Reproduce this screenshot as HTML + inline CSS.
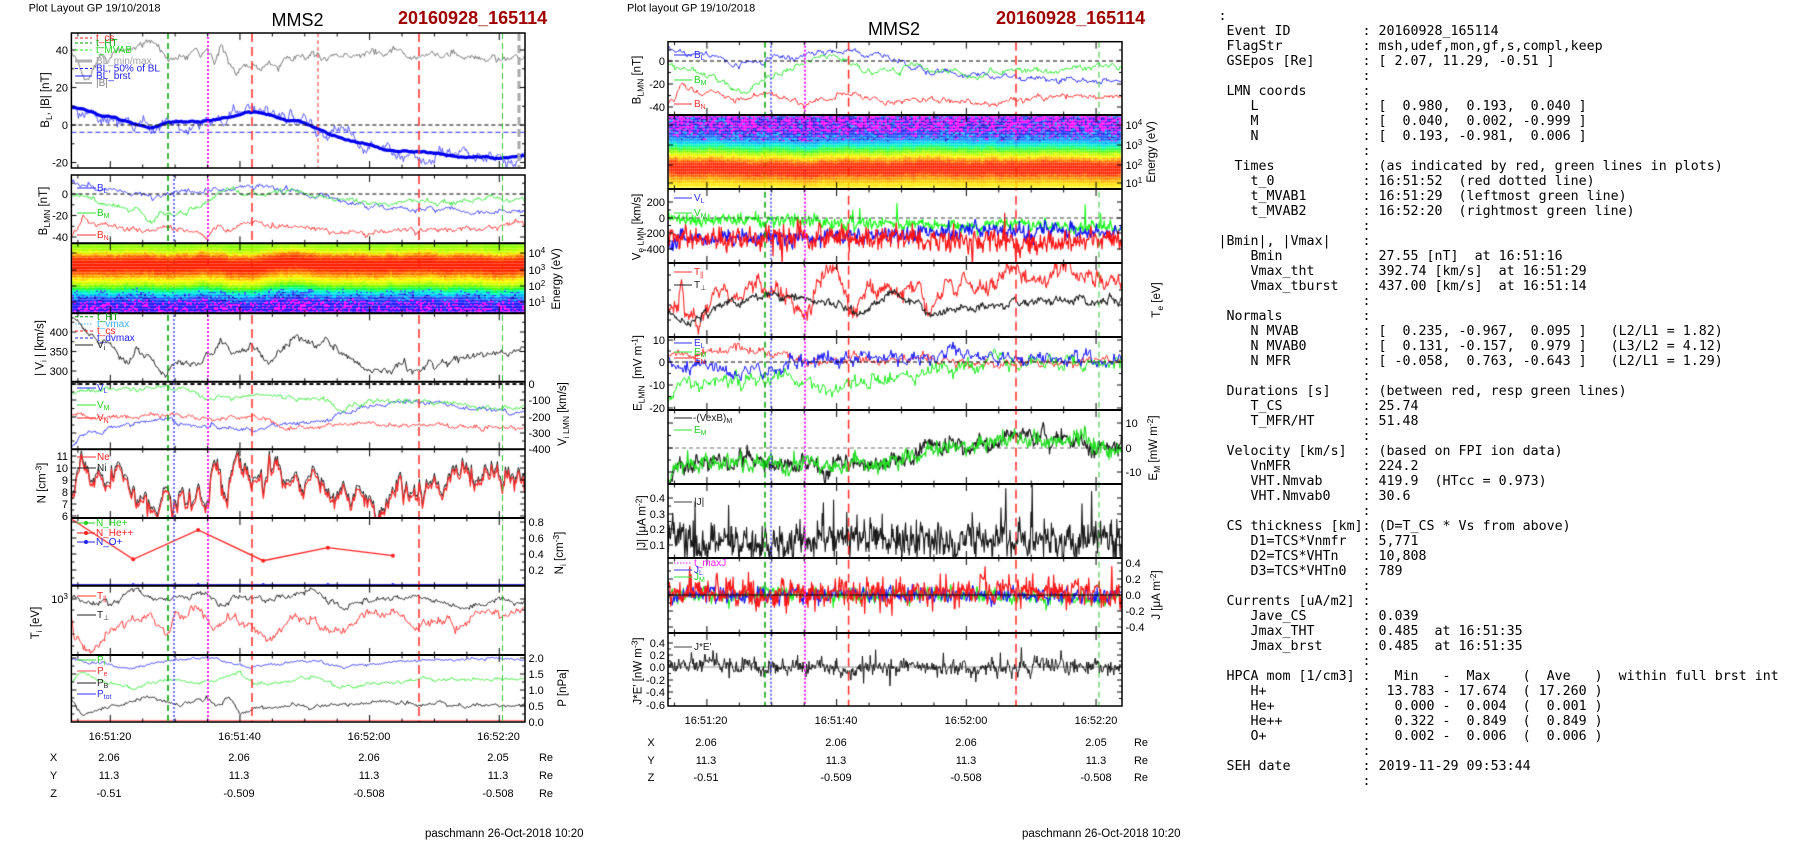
<!DOCTYPE html>
<html><head><meta charset="utf-8"><title>MMS2 20160928_165114</title>
<style>
html,body{margin:0;padding:0;background:#fff;}
body{width:1804px;height:841px;overflow:hidden;position:relative;}
#c,#s{position:absolute;left:0;top:0;}
text{white-space:pre;}
</style></head><body>
<canvas id="c" width="1804" height="841"></canvas>
<svg id="s" xmlns="http://www.w3.org/2000/svg" width="1804" height="841" viewBox="0 0 1804 841" font-family="'Liberation Sans', Arial, sans-serif">

<!-- headers -->
<g font-size="11" fill="#000">
<text x="28.6" y="11.5">Plot Layout GP 19/10/2018</text>
<text x="627" y="11.5">Plot layout GP 19/10/2018</text>
</g>
<g font-size="18" text-anchor="middle" fill="#000">
<text x="297.5" y="26">MMS2</text>
<text x="894" y="35">MMS2</text>
</g>
<g font-size="18" font-weight="bold" fill="#a00000">
<text x="398" y="24">20160928_165114</text>
<text x="996" y="24">20160928_165114</text>
</g>

<!-- frames -->
<g fill="none" stroke="#000">
<rect x="71.4" y="33" width="453.6" height="135" stroke-width="1.5"/>
<rect x="71.4" y="175" width="453.6" height="547" stroke-width="1.5"/>
<path d="M71.4 243.3H525M71.4 313.3H525M71.4 381.7H525M71.4 449.3H525M71.4 518H525M71.4 585.7H525M71.4 655H525" stroke-width="2"/>
<rect x="668" y="41.7" width="454" height="664.3" stroke-width="1.5"/>
<path d="M668 115H1122M668 189H1122M668 263H1122M668 337H1122M668 410H1122M668 484H1122M668 558H1122M668 633H1122" stroke-width="2"/>
</g>

<!-- left tick labels -->
<g font-size="11" text-anchor="end" fill="#000">
<text x="68" y="54">40</text><text x="68" y="91.5">20</text><text x="68" y="129">0</text><text x="68" y="166.5">-20</text>
<text x="68" y="198">0</text><text x="68" y="219.5">-20</text><text x="68" y="241">-40</text>
<text x="68" y="336">400</text><text x="68" y="355.5">350</text><text x="68" y="375">300</text>
<text x="68" y="460">11</text><text x="68" y="472">10</text><text x="68" y="484">9</text><text x="68" y="496">8</text><text x="68" y="508">7</text><text x="68" y="520">6</text>
<text x="68" y="603">10<tspan dy="-4" font-size="8">3</tspan></text>
<text x="665" y="65">0</text><text x="665" y="88">-20</text><text x="665" y="111">-40</text>
<text x="665" y="206">200</text><text x="665" y="222">0</text><text x="665" y="237">-200</text><text x="665" y="253">-400</text>
<text x="665" y="344">10</text><text x="665" y="366">0</text><text x="665" y="389">-10</text><text x="665" y="412">-20</text>
<text x="665" y="502">0.4</text><text x="665" y="518">0.3</text><text x="665" y="533">0.2</text><text x="665" y="549">0.1</text>
<text x="665" y="647">0.4</text><text x="665" y="659">0.2</text><text x="665" y="671">0.0</text><text x="665" y="684">-0.2</text><text x="665" y="696">-0.4</text><text x="665" y="709">-0.6</text>
</g>
<g font-size="11" fill="#000">
<text x="528.5" y="257">10<tspan dy="-4" font-size="8">4</tspan></text>
<text x="528.5" y="274">10<tspan dy="-4" font-size="8">3</tspan></text>
<text x="528.5" y="290">10<tspan dy="-4" font-size="8">2</tspan></text>
<text x="528.5" y="306">10<tspan dy="-4" font-size="8">1</tspan></text>
<text x="528.5" y="388">0</text><text x="528.5" y="404">-100</text><text x="528.5" y="421">-200</text><text x="528.5" y="437">-300</text><text x="528.5" y="453">-400</text>
<text x="528.5" y="526">0.8</text><text x="528.5" y="542">0.6</text><text x="528.5" y="558">0.4</text><text x="528.5" y="574">0.2</text>
<text x="528.5" y="662">2.0</text><text x="528.5" y="678">1.5</text><text x="528.5" y="694">1.0</text><text x="528.5" y="710">0.5</text><text x="528.5" y="726">0.0</text>
<text x="1125.5" y="129">10<tspan dy="-4" font-size="8">4</tspan></text>
<text x="1125.5" y="149">10<tspan dy="-4" font-size="8">3</tspan></text>
<text x="1125.5" y="169">10<tspan dy="-4" font-size="8">2</tspan></text>
<text x="1125.5" y="187">10<tspan dy="-4" font-size="8">1</tspan></text>
<text x="1125.5" y="427">10</text><text x="1125.5" y="452">0</text><text x="1125.5" y="476">-10</text>
<text x="1125.5" y="567">0.4</text><text x="1125.5" y="583">0.2</text><text x="1125.5" y="599">0.0</text><text x="1125.5" y="615">-0.2</text><text x="1125.5" y="631">-0.4</text>
</g>

<!-- axis labels -->
<g font-size="11.5" text-anchor="middle" fill="#000">
<text transform="translate(49,100) rotate(-90)">B<tspan dy="3" font-size="8.5">L</tspan><tspan dy="-3">, |B| [nT]</tspan></text>
<text transform="translate(47,211) rotate(-90)">B<tspan dy="3" font-size="8.5">LMN</tspan><tspan dy="-3"> [nT]</tspan></text>
<text transform="translate(43.5,348) rotate(-90)">| V<tspan dy="3" font-size="8.5">i</tspan><tspan dy="-3"> | [km/s]</tspan></text>
<text transform="translate(45.5,483) rotate(-90)">N [cm<tspan dy="-4" font-size="8.5">-3</tspan><tspan dy="4">]</tspan></text>
<text transform="translate(39,623) rotate(-90)">T<tspan dy="3" font-size="8.5">i</tspan><tspan dy="-3"> [eV]</tspan></text>
<text transform="translate(560,279) rotate(-90)">Energy (eV)</text>
<text transform="translate(566,414) rotate(-90)">V<tspan dy="3" font-size="8.5">i LMN</tspan><tspan dy="-3"> [km/s]</tspan></text>
<text transform="translate(563,553) rotate(-90)">N<tspan dy="3" font-size="8.5">i</tspan><tspan dy="-3"> [cm</tspan><tspan dy="-4" font-size="8.5">-3</tspan><tspan dy="4">]</tspan></text>
<text transform="translate(566,688) rotate(-90)">P [nPa]</text>
<text transform="translate(640.5,80) rotate(-90)">B<tspan dy="3" font-size="8.5">LMN</tspan><tspan dy="-3"> [nT]</tspan></text>
<text transform="translate(640.5,227) rotate(-90)">V<tspan dy="3" font-size="8.5">e LMN</tspan><tspan dy="-3"> [km/s]</tspan></text>
<text transform="translate(641.5,373) rotate(-90)">E<tspan dy="3" font-size="8.5">LMN</tspan><tspan dy="-3">  [mV m</tspan><tspan dy="-4" font-size="8.5">-1</tspan><tspan dy="4">]</tspan></text>
<text transform="translate(645.5,523) rotate(-90)">|J| [μA m<tspan dy="-4" font-size="8.5">-2</tspan><tspan dy="4">]</tspan></text>
<text transform="translate(641.5,671) rotate(-90)">J*E' [nW m<tspan dy="-4" font-size="8.5">-3</tspan><tspan dy="4">]</tspan></text>
<text transform="translate(1155,152) rotate(-90)">Energy (eV)</text>
<text transform="translate(1160,300) rotate(-90)">T<tspan dy="3" font-size="8.5">e</tspan><tspan dy="-3"> [eV]</tspan></text>
<text transform="translate(1157,448) rotate(-90)">E<tspan dy="3" font-size="8.5">M</tspan><tspan dy="-3"> [mW m</tspan><tspan dy="-4" font-size="8.5">-2</tspan><tspan dy="4">]</tspan></text>
<text transform="translate(1160,595) rotate(-90)">J [μA m<tspan dy="-4" font-size="8.5">-2</tspan><tspan dy="4">]</tspan></text>
</g>

<!-- legends left -->
<g font-size="10">
<g stroke-width="1">
<line x1="75" y1="38" x2="92" y2="38" stroke="#ff2020" stroke-dasharray="3 2"/>
<line x1="75" y1="43" x2="92" y2="43" stroke="#00a000" stroke-dasharray="3 2"/>
<line x1="75" y1="50" x2="92" y2="50" stroke="#20ff20" stroke-dasharray="3 2"/>
<line x1="75" y1="61" x2="92" y2="61" stroke="#b0b0b0" stroke-width="3"/>
<line x1="75" y1="68.5" x2="92" y2="68.5" stroke="#2020ff" stroke-dasharray="3 2"/>
<line x1="75" y1="76" x2="92" y2="76" stroke="#2020ff"/>
<line x1="75" y1="83" x2="92" y2="83" stroke="#909090" stroke-width="1.5"/>
</g>
<text x="96" y="41" fill="#ff2020">t_cs</text>
<text x="96" y="46" fill="#00a000">t_HT</text>
<text x="96" y="53" fill="#20e020">t_MVAB</text>
<text x="96" y="64" fill="#a0a0a0">BL_min/max</text>
<text x="96" y="71.5" fill="#2020ff">BL, 50% of BL</text>
<text x="96" y="79" fill="#2020ff">BL_brst</text>
<text x="96" y="86" fill="#808080">|B|</text>

<line x1="77" y1="188" x2="96" y2="188" stroke="#3030ff"/>
<line x1="77" y1="213" x2="96" y2="213" stroke="#30e030"/>
<line x1="77" y1="235" x2="96" y2="235" stroke="#ff3030"/>
<text x="97" y="191" fill="#3030ff">B<tspan dy="2" font-size="7">L</tspan></text>
<text x="97" y="216" fill="#20d020">B<tspan dy="2" font-size="7">M</tspan></text>
<text x="97" y="238" fill="#ff3030">B<tspan dy="2" font-size="7">N</tspan></text>

<line x1="75" y1="316.7" x2="93" y2="316.7" stroke="#00a000" stroke-dasharray="3 2"/>
<line x1="75" y1="324" x2="93" y2="324" stroke="#40b0ff" stroke-dasharray="1.5 1.5"/>
<line x1="75" y1="331" x2="93" y2="331" stroke="#ff2020" stroke-dasharray="3 2"/>
<line x1="75" y1="338" x2="93" y2="338" stroke="#2020ff" stroke-dasharray="3 2"/>
<line x1="75" y1="345" x2="93" y2="345" stroke="#202020"/>
<text x="97" y="320" fill="#00a000">t_HT</text>
<text x="97" y="327" fill="#40b0ff">t_vmax</text>
<text x="97" y="334" fill="#ff2020">t_cs</text>
<text x="97" y="341" fill="#2020ff">t_dvmax</text>
<text x="97" y="348" fill="#202020">V<tspan dy="2" font-size="7">i</tspan></text>

<line x1="77" y1="388" x2="96" y2="388" stroke="#3030ff"/>
<line x1="77" y1="405" x2="96" y2="405" stroke="#30e030"/>
<line x1="77" y1="418" x2="96" y2="418" stroke="#ff3030"/>
<text x="97" y="391" fill="#3030ff">V<tspan dy="2" font-size="7">L</tspan></text>
<text x="97" y="408" fill="#20d020">V<tspan dy="2" font-size="7">M</tspan></text>
<text x="97" y="421" fill="#ff3030">V<tspan dy="2" font-size="7">N</tspan></text>

<line x1="77" y1="457" x2="96" y2="457" stroke="#ff3030"/>
<line x1="77" y1="468" x2="96" y2="468" stroke="#202020"/>
<text x="97" y="460" fill="#ff2020">Ne</text>
<text x="97" y="471" fill="#202020">Ni</text>

<line x1="77" y1="523" x2="95" y2="523" stroke="#20d020"/><circle cx="86" cy="523" r="2" fill="#20d020"/>
<line x1="77" y1="533" x2="95" y2="533" stroke="#ff2020"/><circle cx="86" cy="533" r="2" fill="#ff2020"/>
<line x1="77" y1="542" x2="95" y2="542" stroke="#2020ff"/><circle cx="86" cy="542" r="2" fill="#2020ff"/>
<text x="96" y="526" fill="#20d020">N_He+</text>
<text x="96" y="536" fill="#ff2020">N_He++</text>
<text x="96" y="545" fill="#2020ff">N_O+</text>

<line x1="77" y1="596" x2="96" y2="596" stroke="#ff3030"/>
<line x1="77" y1="615" x2="96" y2="615" stroke="#202020"/>
<text x="97" y="599" fill="#ff2020">T<tspan dy="2" font-size="7">||</tspan></text>
<text x="97" y="618" fill="#202020">T<tspan dy="2" font-size="7">⊥</tspan></text>

<line x1="77" y1="660" x2="96" y2="660" stroke="#30e030"/>
<line x1="77" y1="671" x2="96" y2="671" stroke="#ff5050"/>
<line x1="77" y1="683" x2="96" y2="683" stroke="#202020"/>
<line x1="77" y1="694" x2="96" y2="694" stroke="#3030ff"/>
<text x="97" y="663" fill="#20d020">P<tspan dy="2" font-size="7">i</tspan></text>
<text x="97" y="674" fill="#ff3030">P<tspan dy="2" font-size="7">e</tspan></text>
<text x="97" y="686" fill="#202020">P<tspan dy="2" font-size="7">B</tspan></text>
<text x="97" y="697" fill="#3030ff">P<tspan dy="2" font-size="7">tot</tspan></text>
</g>

<!-- legends middle -->
<g font-size="10">
<line x1="674" y1="55" x2="692" y2="55" stroke="#3030ff"/>
<line x1="674" y1="80" x2="692" y2="80" stroke="#30e030"/>
<line x1="674" y1="104" x2="692" y2="104" stroke="#ff3030"/>
<text x="694" y="58" fill="#3030ff">B<tspan dy="2" font-size="7">L</tspan></text>
<text x="694" y="83" fill="#20d020">B<tspan dy="2" font-size="7">M</tspan></text>
<text x="694" y="107" fill="#ff3030">B<tspan dy="2" font-size="7">N</tspan></text>
<line x1="674" y1="198" x2="692" y2="198" stroke="#3030ff"/>
<line x1="674" y1="213" x2="692" y2="213" stroke="#30e030"/>
<text x="694" y="201" fill="#3030ff">V<tspan dy="2" font-size="7">L</tspan></text>
<text x="694" y="216" fill="#20d020">V<tspan dy="2" font-size="7">M</tspan></text>
<line x1="674" y1="272" x2="692" y2="272" stroke="#ff3030"/>
<line x1="674" y1="285" x2="692" y2="285" stroke="#202020"/>
<text x="694" y="275" fill="#ff2020">T<tspan dy="2" font-size="7">||</tspan></text>
<text x="694" y="288" fill="#202020">T<tspan dy="2" font-size="7">⊥</tspan></text>
<line x1="674" y1="343" x2="692" y2="343" stroke="#3030ff"/>
<line x1="674" y1="352" x2="692" y2="352" stroke="#30e030"/>
<line x1="674" y1="358" x2="692" y2="358" stroke="#ff3030"/>
<text x="694" y="346" fill="#3030ff">E<tspan dy="2" font-size="7">L</tspan></text>
<text x="694" y="355" fill="#20d020">E<tspan dy="2" font-size="7">M</tspan></text>
<text x="694" y="362" fill="#ff3030">E<tspan dy="2" font-size="7">N</tspan></text>
<line x1="674" y1="418" x2="692" y2="418" stroke="#202020"/>
<line x1="674" y1="430" x2="692" y2="430" stroke="#30e030"/>
<text x="693" y="421" fill="#202020">-(VexB)<tspan dy="2" font-size="7">M</tspan></text>
<text x="694" y="433" fill="#20d020">E<tspan dy="2" font-size="7">M</tspan></text>
<line x1="674" y1="502" x2="692" y2="502" stroke="#404040"/>
<text x="694" y="505" fill="#202020">|J|</text>
<line x1="674" y1="563" x2="692" y2="563" stroke="#ff20ff" stroke-dasharray="1.5 1.5"/>
<line x1="674" y1="570" x2="692" y2="570" stroke="#3030ff"/>
<line x1="674" y1="577" x2="692" y2="577" stroke="#30e030"/>
<text x="694" y="566" fill="#ff20ff">t_maxJ</text>
<text x="694" y="573" fill="#3030ff">J<tspan dy="2" font-size="7">L</tspan></text>
<text x="694" y="580" fill="#20d020">J<tspan dy="2" font-size="7">M</tspan></text>
<line x1="674" y1="647" x2="692" y2="647" stroke="#404040"/>
<text x="694" y="650" fill="#202020">J*E'</text>
</g>

<!-- x axis labels & positions -->
<g font-size="11" text-anchor="middle" fill="#000">
<text x="110" y="740">16:51:20</text><text x="239.5" y="740">16:51:40</text><text x="369" y="740">16:52:00</text><text x="498.5" y="740">16:52:20</text>
<text x="53.6" y="761">X</text><text x="109" y="761">2.06</text><text x="239" y="761">2.06</text><text x="369" y="761">2.06</text><text x="498" y="761">2.05</text><text x="546" y="761">Re</text>
<text x="53.6" y="779">Y</text><text x="109" y="779">11.3</text><text x="239" y="779">11.3</text><text x="369" y="779">11.3</text><text x="498" y="779">11.3</text><text x="546" y="779">Re</text>
<text x="53.6" y="797">Z</text><text x="109" y="797">-0.51</text><text x="239" y="797">-0.509</text><text x="369" y="797">-0.508</text><text x="498" y="797">-0.508</text><text x="546" y="797">Re</text>
<text x="706" y="724">16:51:20</text><text x="836" y="724">16:51:40</text><text x="966" y="724">16:52:00</text><text x="1096" y="724">16:52:20</text>
<text x="651" y="746">X</text><text x="706" y="746">2.06</text><text x="836" y="746">2.06</text><text x="966" y="746">2.06</text><text x="1096" y="746">2.05</text><text x="1141" y="746">Re</text>
<text x="651" y="764">Y</text><text x="706" y="764">11.3</text><text x="836" y="764">11.3</text><text x="966" y="764">11.3</text><text x="1096" y="764">11.3</text><text x="1141" y="764">Re</text>
<text x="651" y="781">Z</text><text x="706" y="781">-0.51</text><text x="836" y="781">-0.509</text><text x="966" y="781">-0.508</text><text x="1096" y="781">-0.508</text><text x="1141" y="781">Re</text>
</g>
<g font-size="11.5" fill="#000">
<text x="425" y="837">paschmann 26-Oct-2018 10:20</text>
<text x="1022" y="837">paschmann 26-Oct-2018 10:20</text>
</g>

<!-- info text block -->
<g font-family="'DejaVu Sans Mono','Liberation Mono',monospace" font-size="13.3" fill="#000" xml:space="preserve">
<text y="20"><tspan x="1218.5">:</tspan></text>
<text y="35"><tspan x="1226.5">Event ID</tspan><tspan x="1362.5">:</tspan><tspan x="1378.5">20160928_165114</tspan></text>
<text y="50"><tspan x="1226.5">FlagStr</tspan><tspan x="1362.5">:</tspan><tspan x="1378.5">msh,udef,mon,gf,s,compl,keep</tspan></text>
<text y="65"><tspan x="1226.5">GSEpos [Re]</tspan><tspan x="1362.5">:</tspan><tspan x="1378.5">[ 2.07, 11.29, -0.51 ]</tspan></text>
<text y="80"><tspan x="1362.5">:</tspan></text>
<text y="95"><tspan x="1226.5">LMN coords</tspan><tspan x="1362.5">:</tspan></text>
<text y="110"><tspan x="1250.5">L</tspan><tspan x="1362.5">:</tspan><tspan x="1378.5">[  0.980,  0.193,  0.040 ]</tspan></text>
<text y="125"><tspan x="1250.5">M</tspan><tspan x="1362.5">:</tspan><tspan x="1378.5">[  0.040,  0.002, -0.999 ]</tspan></text>
<text y="140"><tspan x="1250.5">N</tspan><tspan x="1362.5">:</tspan><tspan x="1378.5">[  0.193, -0.981,  0.006 ]</tspan></text>
<text y="155"><tspan x="1362.5">:</tspan></text>
<text y="170"><tspan x="1234.5">Times</tspan><tspan x="1362.5">:</tspan><tspan x="1378.5">(as indicated by red, green lines in plots)</tspan></text>
<text y="185"><tspan x="1250.5">t_0</tspan><tspan x="1362.5">:</tspan><tspan x="1378.5">16:51:52  (red dotted line)</tspan></text>
<text y="200"><tspan x="1250.5">t_MVAB1</tspan><tspan x="1362.5">:</tspan><tspan x="1378.5">16:51:29  (leftmost green line)</tspan></text>
<text y="215"><tspan x="1250.5">t_MVAB2</tspan><tspan x="1362.5">:</tspan><tspan x="1378.5">16:52:20  (rightmost green line)</tspan></text>
<text y="230"><tspan x="1362.5">:</tspan></text>
<text y="245"><tspan x="1218.5">|Bmin|, |Vmax|</tspan><tspan x="1362.5">:</tspan></text>
<text y="260"><tspan x="1250.5">Bmin</tspan><tspan x="1362.5">:</tspan><tspan x="1378.5">27.55 [nT]  at 16:51:16</tspan></text>
<text y="275"><tspan x="1250.5">Vmax_tht</tspan><tspan x="1362.5">:</tspan><tspan x="1378.5">392.74 [km/s]  at 16:51:29</tspan></text>
<text y="290"><tspan x="1250.5">Vmax_tburst</tspan><tspan x="1362.5">:</tspan><tspan x="1378.5">437.00 [km/s]  at 16:51:14</tspan></text>
<text y="305"><tspan x="1362.5">:</tspan></text>
<text y="320"><tspan x="1226.5">Normals</tspan><tspan x="1362.5">:</tspan></text>
<text y="335"><tspan x="1250.5">N MVAB</tspan><tspan x="1362.5">:</tspan><tspan x="1378.5">[  0.235, -0.967,  0.095 ]   (L2/L1 = 1.82)</tspan></text>
<text y="350"><tspan x="1250.5">N MVAB0</tspan><tspan x="1362.5">:</tspan><tspan x="1378.5">[  0.131, -0.157,  0.979 ]   (L3/L2 = 4.12)</tspan></text>
<text y="365"><tspan x="1250.5">N MFR</tspan><tspan x="1362.5">:</tspan><tspan x="1378.5">[ -0.058,  0.763, -0.643 ]   (L2/L1 = 1.29)</tspan></text>
<text y="380"><tspan x="1362.5">:</tspan></text>
<text y="395"><tspan x="1226.5">Durations [s]</tspan><tspan x="1362.5">:</tspan><tspan x="1378.5">(between red, resp green lines)</tspan></text>
<text y="410"><tspan x="1250.5">T_CS</tspan><tspan x="1362.5">:</tspan><tspan x="1378.5">25.74</tspan></text>
<text y="425"><tspan x="1250.5">T_MFR/HT</tspan><tspan x="1362.5">:</tspan><tspan x="1378.5">51.48</tspan></text>
<text y="440"><tspan x="1362.5">:</tspan></text>
<text y="455"><tspan x="1226.5">Velocity [km/s]</tspan><tspan x="1362.5">:</tspan><tspan x="1378.5">(based on FPI ion data)</tspan></text>
<text y="470"><tspan x="1250.5">VnMFR</tspan><tspan x="1362.5">:</tspan><tspan x="1378.5">224.2</tspan></text>
<text y="485"><tspan x="1250.5">VHT.Nmvab</tspan><tspan x="1362.5">:</tspan><tspan x="1378.5">419.9  (HTcc = 0.973)</tspan></text>
<text y="500"><tspan x="1250.5">VHT.Nmvab0</tspan><tspan x="1362.5">:</tspan><tspan x="1378.5">30.6</tspan></text>
<text y="515"><tspan x="1362.5">:</tspan></text>
<text y="530"><tspan x="1226.5">CS thickness [km]</tspan><tspan x="1362.5">:</tspan><tspan x="1378.5">(D=T_CS * Vs from above)</tspan></text>
<text y="545"><tspan x="1250.5">D1=TCS*Vnmfr</tspan><tspan x="1362.5">:</tspan><tspan x="1378.5">5,771</tspan></text>
<text y="560"><tspan x="1250.5">D2=TCS*VHTn</tspan><tspan x="1362.5">:</tspan><tspan x="1378.5">10,808</tspan></text>
<text y="575"><tspan x="1250.5">D3=TCS*VHTn0</tspan><tspan x="1362.5">:</tspan><tspan x="1378.5">789</tspan></text>
<text y="590"><tspan x="1362.5">:</tspan></text>
<text y="605"><tspan x="1226.5">Currents [uA/m2]</tspan><tspan x="1362.5">:</tspan></text>
<text y="620"><tspan x="1250.5">Jave_CS</tspan><tspan x="1362.5">:</tspan><tspan x="1378.5">0.039</tspan></text>
<text y="635"><tspan x="1250.5">Jmax_THT</tspan><tspan x="1362.5">:</tspan><tspan x="1378.5">0.485  at 16:51:35</tspan></text>
<text y="650"><tspan x="1250.5">Jmax_brst</tspan><tspan x="1362.5">:</tspan><tspan x="1378.5">0.485  at 16:51:35</tspan></text>
<text y="665"><tspan x="1362.5">:</tspan></text>
<text y="680"><tspan x="1226.5">HPCA mom [1/cm3]</tspan><tspan x="1362.5">:</tspan><tspan x="1394.5">Min   -  Max    (  Ave   )  within full brst int</tspan></text>
<text y="695"><tspan x="1250.5">H+</tspan><tspan x="1362.5">:</tspan><tspan x="1386.5">13.783 - 17.674  ( 17.260 )</tspan></text>
<text y="710"><tspan x="1250.5">He+</tspan><tspan x="1362.5">:</tspan><tspan x="1394.5">0.000 -  0.004  (  0.001 )</tspan></text>
<text y="725"><tspan x="1250.5">He++</tspan><tspan x="1362.5">:</tspan><tspan x="1394.5">0.322 -  0.849  (  0.849 )</tspan></text>
<text y="740"><tspan x="1250.5">O+</tspan><tspan x="1362.5">:</tspan><tspan x="1394.5">0.002 -  0.006  (  0.006 )</tspan></text>
<text y="755"><tspan x="1362.5">:</tspan></text>
<text y="770"><tspan x="1226.5">SEH date</tspan><tspan x="1362.5">:</tspan><tspan x="1378.5">2019-11-29 09:53:44</tspan></text>
<text y="785"><tspan x="1362.5">:</tspan></text>
</g>
</svg>

<script>
(function(){
var C=document.getElementById('c'),g=C.getContext('2d');
var S=987654321;
function r(){S^=S<<13;S^=S>>>17;S^=S<<5;return (S>>>0)/4294967296;}
function n(){var u=r();if(u<1e-9)u=1e-9;return Math.sqrt(-2*Math.log(u))*Math.cos(6.283185*r());}
function ip(k,x){if(x<=k[0][0])return k[0][1];for(var i=1;i<k.length;i++){if(x<=k[i][0]){var a=k[i-1],b=k[i];return a[1]+(b[1]-a[1])*(x-a[0])/(b[0]-a[0]);}}return k[k.length-1][1];}
function K(off,a){return a.map(function(p){return [off+p[0]/2.8,p[1]];});}
function gen(b,k,o){o=o||{};var st=o.st||1,a=[],w=0,rc=(o.rc==null?0.8:o.rc);for(var x=b[0];x<=b[2]+0.001;x+=st){w=w*rc+n()*(o.rw||0);var v=ip(k,x)+w+n()*(o.ns||0);if(o.sp&&r()<o.sp){v+=((o.sd&&r()<0.5)?-1:1)*o.sa*(0.3+0.7*r());}a.push([x,v]);}return a;}
function dr(b,a,f,col,lw,dv){g.save();g.beginPath();g.rect(b[0],b[1],b[2]-b[0],b[3]-b[1]);g.clip();g.beginPath();for(var i=0;i<a.length;i++){var y=f(a[i][1]+(dv||0));if(i)g.lineTo(a[i][0],y);else g.moveTo(a[i][0],y);}g.strokeStyle=col;g.lineWidth=lw||1;g.lineJoin='round';g.stroke();g.restore();}
function T(b,k,f,col,lw,o){dr(b,gen(b,k,o),f,col,lw);}
function hl(x0,x1,y,col,lw,dash){g.save();g.beginPath();g.moveTo(x0,y);g.lineTo(x1,y);g.strokeStyle=col;g.lineWidth=lw;g.setLineDash(dash||[]);g.stroke();g.restore();}
function vl(x,y0,y1,col,lw,dash){g.save();g.beginPath();g.moveTo(x,y0);g.lineTo(x,y1);g.strokeStyle=col;g.lineWidth=lw;g.setLineDash(dash||[]);g.stroke();g.restore();}
var BLU='#3a3aff',GRN='#3ce83c',RED='#ff3a3a',BLK='#202020';
var id=function(v){return v;};

/* ---------- LEFT PANELS ---------- */
var L1=[71.4,33,525,168],f1=function(v){return 125-v*1.875;};
T(L1,K(0,[[200,41],[215,36],[240,22],[260,28],[280,38],[300,34],[330,40],[380,40],[420,45],[450,40],[470,35],[510,36],[545,40],[565,38],[580,41],[600,32],[620,44],[640,33],[660,26],[680,30],[720,30],[740,30],[760,33],[780,30],[800,35],[840,36],[880,38],[900,35],[940,37],[1000,37],[1040,39],[1080,37],[1100,40],[1140,37],[1180,37],[1220,38],[1250,37],[1270,40],[1300,36],[1350,35],[1400,35.5],[1440,36],[1470,35]]),f1,'#7a7a7a',1,{ns:0.5,rw:0.7,rc:0.7});
var BLk=K(0,[[200,10],[240,8],[280,5.5],[320,4],[360,1],[400,-0.5],[430,-1],[470,1.5],[520,2],[560,2],[600,2.5],[640,4],[680,6.5],[720,7],[760,5],[800,2.5],[840,1],[880,-1],[920,-4.5],[960,-7],[1000,-9],[1040,-11],[1080,-13.5],[1120,-13.5],[1180,-14.5],[1220,-15.5],[1260,-16.5],[1300,-17],[1400,-17.5],[1470,-17.2]]);
T(L1,BLk,f1,'#5a5aff',1,{ns:0.8,rw:1.3,rc:0.88});
T(L1,BLk,f1,'#0000ee',3.2,{ns:0,rw:0.15,rc:0.9});
hl(71.4,525,125,'#000',1,[4,3]);
hl(71.4,525,132.3,'#2a2aff',1,[5,3]);

var L2=[71.4,175,525,243.3],f2=function(v){return 194-v*1.08;};
T(L2,K(0,[[200,12],[230,10],[260,5],[300,4],[350,2],[400,-2],[430,-3],[470,1],[500,4],[550,1],[580,3],[620,3],[660,6],[700,8],[740,6],[780,3],[820,1],[860,-1],[900,-1],[950,-6],[1000,-8],[1040,-12],[1100,-13],[1180,-14],[1250,-15],[1300,-17],[1380,-16],[1440,-17],[1470,-16]]),f2,BLU,1,{ns:0.6,rw:0.9});
T(L2,K(0,[[200,-2],[230,-1],[260,-6],[300,-9],[350,-12],[400,-17],[420,-25],[450,-18],[470,-21],[520,-17],[560,-10],[580,-4],[610,0],[640,7],[670,2],[700,1],[740,-1],[780,1],[820,2],[860,0],[900,-2],[940,-4],[1000,-7],[1030,-10],[1100,-8],[1200,-7],[1300,-6],[1400,-5],[1470,-4]]),f2,GRN,1,{ns:0.6,rw:0.9});
T(L2,K(0,[[200,-38],[215,-34],[232,-20],[250,-26],[280,-28],[320,-30],[360,-33],[420,-33],[470,-31],[520,-33],[560,-36],[580,-39],[610,-30],[640,-35],[680,-24],[720,-28],[780,-30],[840,-32],[900,-33],[960,-35],[1020,-35],[1080,-36],[1120,-34],[1200,-32],[1270,-35],[1320,-31],[1400,-30],[1470,-30]]),f2,RED,1,{ns:0.6,rw:0.9});
hl(71.4,525,194,'#000',1,[4,3]);

var L4=[71.4,313.3,525,381.7],f4=function(v){return 332+(400-v)*0.39;};
T(L4,K(0,[[200,440],[230,420],[270,380],[310,370],[350,316],[380,345],[420,330],[460,286],[490,320],[560,330],[600,345],[620,369],[660,350],[700,355],[730,345],[760,328],[800,370],[830,392],[860,375],[880,365],[910,380],[950,350],[1000,320],[1040,303],[1100,305],[1170,310],[1250,320],[1300,335],[1400,345],[1440,350],[1470,365]]),f4,BLK,1,{ns:2.5,rw:3.5});

var L5=[71.4,381.7,525,449.3],f5=function(v){return 384-v*0.1625;};
T(L5,K(0,[[200,-386],[250,-300],[300,-280],[350,-242],[400,-230],[470,-211],[500,-250],[600,-260],[700,-283],[800,-250],[900,-232],[960,-180],[1000,-150],[1100,-109],[1200,-110],[1300,-140],[1400,-170],[1470,-185]]),f5,BLU,1,{ns:4,rw:5});
T(L5,K(0,[[200,-40],[300,-25],[400,-20],[470,-10],[520,-25],[550,-40],[580,-98],[620,-80],[660,-90],[700,-60],[760,-70],[800,-80],[900,-90],[960,-160],[1030,-105],[1100,-110],[1200,-105],[1300,-130],[1400,-155],[1470,-140]]),f5,GRN,1,{ns:4,rw:5});
T(L5,K(0,[[200,-200],[220,-170],[260,-210],[350,-200],[470,-195],[600,-215],[700,-200],[760,-230],[800,-283],[900,-270],[960,-240],[1100,-250],[1300,-260],[1400,-270],[1470,-285]]),f5,RED,1,{ns:4,rw:5});
hl(71.4,525,384,'#000',2,[4,3]);

var L6=[71.4,449.3,525,518],f6=function(v){return 456+(11-v)*12;};
var nd=gen(L6,K(0,[[200,7.5],[215,9],[230,10.5],[260,8.5],[300,9.5],[350,9],[380,6.3],[420,7.5],[450,7.2],[470,9],[500,8],[530,8.5],[560,7],[580,6.2],[600,10],[620,7.5],[660,10],[700,9],[740,8.5],[770,10.2],[800,8.5],[850,9],[900,8],[950,7.5],[1000,8],[1050,7.5],[1090,7.2],[1130,8.2],[1170,8.3],[1200,8.8],[1250,9],[1300,9.6],[1350,9.5],[1400,9.2],[1470,9]]),{ns:0.2,rw:0.4,rc:0.85});
dr(L6,nd,f6,BLK,1,0.3);
dr(L6,nd,f6,'#ff2a2a',1.2,0);

/* N_i */
g.save();g.beginPath();g.rect(71.4,518,453.6,67.7);g.clip();
g.beginPath();[[71.4,519],[133.2,559.3],[198.2,530],[263.2,560.7],[327.9,547.7],[392.9,555.7]].forEach(function(p,i){i?g.lineTo(p[0],p[1]):g.moveTo(p[0],p[1]);});
g.strokeStyle='#ff2020';g.lineWidth=1.3;g.stroke();
g.fillStyle='#ff2020';[[133.2,559.3],[198.2,530],[263.2,560.7],[327.9,547.7],[392.9,555.7]].forEach(function(p){g.beginPath();g.arc(p[0],p[1],2,0,6.3);g.fill();});
hl(71.4,525,585,'#30d030',1);hl(71.4,525,584.5,'#2020ff',1.2);
g.fillStyle='#2020ff';[133.2,198.2,263.2,327.9,392.9].forEach(function(x){g.beginPath();g.arc(x,584.5,1.6,0,6.3);g.fill();});
g.restore();

var L8=[71.4,585.7,525,655];
T(L8,K(0,[[200,597],[250,603],[300,601],[340,598],[373,588],[420,597],[470,600],[520,596],[580,592],[610,606],[650,598],[700,596],[760,603],[800,598],[870,590],[920,600],[960,610],[1000,602],[1050,598],[1100,598],[1170,596],[1200,598],[1300,607],[1400,600],[1470,600]]),id,BLK,1,{ns:0.8,rw:1.1});
T(L8,K(0,[[200,617],[210,640],[260,652],[300,635],[350,625],[420,617],[470,633],[490,615],[550,607],[580,615],[600,630],[640,618],[700,625],[760,643],[800,620],[830,615],[900,625],[960,630],[1000,617],[1080,615],[1150,622],[1200,620],[1280,625],[1350,614],[1400,613],[1470,609]]),id,RED,1,{ns:1,rw:1.8});

var L9=[71.4,655,525,722];
T(L9,K(0,[[200,660],[300,664],[360,670],[450,662],[550,657],[620,660],[700,668],[800,663],[900,660],[950,666],[1000,665],[1100,662],[1200,660],[1300,659],[1400,658],[1470,660]]),id,BLU,1,{ns:0.3,rw:0.5});
T(L9,K(0,[[200,682],[230,672],[270,680],[380,688],[480,678],[560,685],[600,680],[670,674],[720,685],[800,682],[880,677],[950,688],[1000,686],[1100,682],[1170,679],[1300,680],[1470,679]]),id,GRN,1,{ns:0.4,rw:0.7});
T(L9,K(0,[[200,700],[230,716],[300,707],[420,696],[500,706],[580,697],[610,705],[640,697],[670,713],[700,710],[800,706],[900,707],[1000,703],[1100,702],[1200,704],[1300,705],[1470,706]]),id,BLK,1,{ns:0.4,rw:0.8});
hl(71.4,525,720.5,'#ff6060',1.2);

/* ---------- MIDDLE PANELS ---------- */
var M1=[668,41.7,1122,115],m1=function(v){return 61-v*1.15;};
T(M1,K(560,[[303,12],[330,7],[380,6],[420,5],[460,1],[500,-5],[540,0],[570,-2],[600,4],[650,2],[690,3],[730,7],[770,8],[810,10],[850,5],[900,2],[950,1],[1000,-6],[1030,-10],[1080,-8],[1130,-13],[1200,-13],[1280,-14],[1350,-15],[1400,-17],[1450,-16],[1510,-17],[1560,-18],[1600,-17]]),m1,BLU,1,{ns:0.6,rw:0.9});
T(M1,K(560,[[303,-2],[330,-6],[380,-8],[430,-14],[480,-25],[520,-28],[550,-20],[580,-15],[620,-10],[660,-5],[700,0],[740,5],[780,3],[810,0],[850,-8],[900,-9],[950,-9],[1000,-4],[1040,-8],[1100,-6],[1140,-14],[1200,-9],[1280,-8],[1400,-8],[1500,-6],[1600,-4]]),m1,GRN,1,{ns:0.6,rw:0.9});
T(M1,K(560,[[303,-38],[320,-35],[340,-22],[360,-26],[400,-28],[440,-27],[480,-32],[520,-33],[560,-30],[600,-31],[640,-36],[686,-38],[720,-33],[750,-38],[780,-28],[820,-30],[860,-31],[900,-36],[960,-35],[1040,-34],[1100,-35],[1200,-37],[1280,-34],[1380,-31],[1450,-30],[1600,-31]]),m1,RED,1,{ns:0.6,rw:0.9});
hl(668,1122,61,'#000',1,[4,3]);

var M3=[668,189,1122,263],m3=function(v){return 218-v*0.078;};
T(M3,K(560,[[303,-20],[400,-30],[480,-10],[560,-40],[600,-20],[700,-40],[800,-80],[900,-60],[1000,-80],[1100,-110],[1200,-90],[1300,-80],[1400,-110],[1600,-110]]),m3,'#22ff22',1.2,{st:0.7,ns:28,rw:22,rc:0.6,sp:0.015,sa:250});
T(M3,K(560,[[303,-350],[350,-250],[450,-260],[550,-240],[650,-250],[750,-230],[850,-220],[950,-210],[1000,-190],[1100,-180],[1200,-150],[1300,-170],[1400,-160],[1500,-180],[1600,-170]]),m3,'#1414ff',1.2,{st:0.7,ns:35,rw:28,rc:0.6,sp:0.01,sa:150,sd:1});
T(M3,K(560,[[303,-220],[400,-250],[500,-250],[600,-240],[700,-260],[800,-250],[900,-240],[1000,-250],[1100,-320],[1150,-330],[1200,-280],[1300,-300],[1400,-300],[1500,-280],[1600,-250]]),m3,'#ff1414',1.2,{st:0.7,ns:55,rw:40,rc:0.6,sp:0.03,sa:220,sd:1});
hl(668,1122,218,'#404040',1,[4,3]);

var M4=[668,263,1122,337];
T(M4,K(560,[[303,310],[330,300],[340,272],[350,320],[380,320],[420,307],[460,287],[500,300],[560,280],[600,290],[640,300],[690,313],[720,287],[770,267],[800,293],[820,313],[860,293],[900,287],[960,290],[1000,287],[1040,313],[1060,293],[1120,283],[1180,293],[1220,287],[1250,277],[1280,270],[1320,277],[1360,283],[1400,267],[1450,273],[1500,277],[1540,283],[1600,283]]),id,'#ff2a2a',1.1,{st:0.8,ns:2.5,rw:3,rc:0.8});
T(M4,K(560,[[303,313],[360,325],[420,310],[500,300],[560,297],[640,295],[700,300],[800,307],[850,313],[900,300],[930,295],[1000,300],[1040,315],[1080,310],[1150,310],[1250,302],[1350,298],[1450,302],[1600,301]]),id,BLK,1.1,{st:0.8,ns:1.3,rw:1.3});

var M5=[668,337,1122,410],m5=function(v){return 362-v*2.27;};
T(M5,K(560,[[303,3],[400,4],[480,6],[550,5],[600,3],[650,2],[700,1],[800,1],[1000,1],[1100,0],[1600,0]]),m5,RED,1,{ns:0.6,rw:0.7});
T(M5,K(560,[[303,-20],[340,-10],[400,-9],[500,-7],[600,-7],[700,-8],[740,-13],[800,-9],[900,-8],[1000,-5],[1050,-3],[1100,-3],[1150,0],[1300,1],[1600,-1]]),m5,'#22ee22',1,{ns:1,rw:1.1});
T(M5,K(560,[[303,0],[400,-2],[500,-4],[600,-3],[700,0],[720,2],[740,5],[760,2],[800,1],[900,0],[1000,1],[1100,3],[1200,2],[1300,1],[1600,2]]),m5,'#1a1aff',1,{ns:1,rw:1.1});
hl(668,1122,362,'#000',1,[4,3]);

var M6=[668,410,1122,484],m6=function(v){return 448-v*2.45;};
var emk=K(560,[[303,-15],[330,-7],[400,-6],[500,-5],[560,-4],[600,-6],[700,-6],[740,-10],[800,-7],[900,-7],[960,-4],[1000,-3],[1030,0],[1100,1],[1200,1],[1280,5],[1380,3],[1450,2],[1540,0],[1600,0]]);
hl(668,1122,448,'#707070',1,[4,3]);
T(M6,emk,m6,BLK,1.2,{st:0.7,ns:1.1,rw:1});
T(M6,emk,m6,'#22dd22',1.2,{st:0.7,ns:1.3,rw:1});

var M7=[668,484,1122,558],m7=function(v){return 498+(0.4-Math.abs(v))*156;};
T(M7,[[668,0.12],[1122,0.12]],m7,'#1a1a1a',1.1,{st:0.6,ns:0.045,rw:0.035,rc:0.6,sp:0.04,sa:0.28});

var M8=[668,558,1122,633],m8=function(v){return 595-v*80;};
T(M8,K(560,[[303,0],[900,0],[1000,0.02],[1200,0],[1300,-0.03],[1600,-0.04]]),m8,'#22ee22',1.1,{st:0.7,ns:0.035,rw:0.03,rc:0.6});
T(M8,[[668,0],[1122,0]],m8,'#1a1aff',1.1,{st:0.7,ns:0.035,rw:0.03,rc:0.6});
T(M8,[[668,0.03],[1122,0.03]],m8,'#ff1a1a',1.2,{st:0.7,ns:0.07,rw:0.05,rc:0.6,sp:0.03,sa:0.25,sd:1});
hl(668,1122,595,'#000',1);

var M9=[668,633,1122,706],m9=function(v){return 667-v*61;};
hl(668,1122,667,'#909090',1);
T(M9,K(560,[[303,0],[380,0.05],[420,0.12],[460,0],[1600,0]]),m9,'#1a1a1a',1,{st:0.6,ns:0.045,rw:0.04,rc:0.6,sp:0.03,sa:0.3,sd:1});

/* ---------- markers ---------- */
var gd=[6,4],rd=[9,5];
vl(168,33,168,'#00a000',1.5,gd);vl(208,33,168,'#ff20ff',2,[2,2]);vl(252,33,168,'#ff2a2a',1.5,rd);
vl(318,33,168,'#ff2a2a',1,[4,3]);vl(419,33,168,'#ff2a2a',1.5,rd);vl(502.5,33,168,'#30c030',1,gd);vl(519,33,168,'#a8a8a8',3,[8,4]);
vl(168,175,722,'#00a000',1.6,gd);vl(174,175,722,'#4040ff',1.5,[2,2]);vl(208,175,722,'#ff20ff',2,[2,2]);
vl(252,175,722,'#ff2a2a',1.5,rd);vl(419,175,722,'#ff2a2a',1.5,rd);vl(502.5,175,722,'#30c030',1,gd);
vl(765,41.7,706,'#00a000',1.5,gd);vl(771,41.7,706,'#4040ff',1.5,[2,2]);vl(805,41.7,706,'#ff20ff',2,[2,2]);
vl(848.6,41.7,706,'#ff2a2a',1.5,rd);vl(1016,41.7,706,'#ff2a2a',1.5,rd);vl(1099,41.7,706,'#30c030',1,gd);

/* ---------- spectrograms ---------- */
function hex(h){return [parseInt(h.substr(1,2),16),parseInt(h.substr(3,2),16),parseInt(h.substr(5,2),16)];}
function prep(st){return st.map(function(s){return [s[0],hex(s[1])];});}
function grad(st,f){if(f<=st[0][0])return st[0][1];for(var i=1;i<st.length;i++){if(f<=st[i][0]){var a=st[i-1][1],b=st[i][1],u=(f-st[i-1][0])/(st[i][0]-st[i-1][0]);return [Math.round(a[0]+(b[0]-a[0])*u),Math.round(a[1]+(b[1]-a[1])*u),Math.round(a[2]+(b[2]-a[2])*u)];}}return st[st.length-1][1];}
function spec(x0,y0,x1,y1,st,nz){var h=y1-y0,sh=0;for(var x=x0;x<x1;x+=2){sh=sh*0.92+n()*0.006;for(var y=y0;y<y1;y+=1.5){var f=(y-y0)/h+sh+n()*0.01;var c=nz(f)||grad(st,f);g.fillStyle='rgb('+c[0]+','+c[1]+','+c[2]+')';g.fillRect(x,y,Math.min(2,x1-x),1.5);}}}
var SL=prep([[0,'#80ff00'],[0.07,'#b0ff00'],[0.12,'#f0ff00'],[0.15,'#ffb000'],[0.19,'#ff5000'],[0.25,'#ff2000'],[0.36,'#ff2000'],[0.42,'#ff6000'],[0.47,'#ffb000'],[0.52,'#ffff00'],[0.57,'#c8ff00'],[0.62,'#60ff00'],[0.66,'#00ff60'],[0.70,'#00ffd0'],[0.74,'#00c0ff'],[0.78,'#2060ff'],[0.85,'#2020ff'],[1,'#3010ff']]);
spec(72,244,524.5,312.5,SL,function(f){var u=r();if(f>0.74){if(f>0.82&&u<0.33)return [255,0,255];if(u<0.1)return [0,200,255];if(u<0.25)return [20,20,190];if(u<0.38)return [70,70,255];}else if(f>0.68){if(u<0.22)return [40,80,255];}return null;});
var SM=prep([[0,'#3010ff'],[0.22,'#2030ff'],[0.3,'#2070ff'],[0.35,'#00c8ff'],[0.40,'#00ffb0'],[0.45,'#40ff20'],[0.5,'#b0ff00'],[0.54,'#ffff00'],[0.58,'#ffb000'],[0.63,'#ff4000'],[0.68,'#ff2000'],[0.78,'#ff2800'],[0.82,'#ff7000'],[0.87,'#ffb000'],[0.92,'#ffe000'],[1,'#ffff30']]);
spec(668.8,116,1121.3,188,SM,function(f){var u=r();if(f<0.2){if(u<0.5)return [255,0,255];if(u<0.6)return [0,160,255];if(u<0.75)return [20,20,190];}else if(f<0.32){if(u<0.12)return [255,0,255];if(u<0.28)return [0,200,255];if(u<0.38)return [20,20,200];}return null;});

/* ---------- ticks ---------- */
var XL=function(t){return 71.4+(t-14)*6.483;},XM=function(t){return 668+(t-14)*6.486;};
function xt(X,ps){for(var t=15;t<=80;t+=5){var x=X(t),L=(t%20==0)?7:3.5;ps.forEach(function(p){vl(x,p[0],p[0]+L,'#000',1);vl(x,p[1]-L,p[1],'#000',1);});}}
xt(XL,[[33,168],[175,243.3],[243.3,313.3],[313.3,381.7],[381.7,449.3],[449.3,518],[518,585.7],[585.7,655],[655,722]]);
xt(XM,[[41.7,115],[115,189],[189,263],[263,337],[337,410],[410,484],[484,558],[558,633],[633,706]]);
function yt(x0,x1,ys,L){ys.forEach(function(y){hl(x0,x0+L,y,'#000',1);hl(x1-L,x1,y,'#000',1);});}
yt(71.4,525,[50,87.5,125,162.5,194,215.5,237,253,270,286,302,332,351.5,371,384,400,417,433,456,468,480,492,504,516,522,538,554,570,599,658,674,690,706],5);
yt(71.4,525,[68.75,106.25,143.75,183.2,204.8,226.3,322.2,341.7,361.3,392,408.5,425,441,462,474,486,498,510,530,546,562,578,610,622,634,646,666,682,698,714],3);
yt(668,1122,[61,84,107,125,145,165,183,202,218,233,249,340,362,385,408,423,448,472,498,514,529,545,563,579,595,611,627,643,655,667,680,692],5);
yt(668,1122,[50,72.5,95.5,210,225.5,241,351,373.5,396.5,435.5,460,506,521.5,537,571,587,603,619,649,661,673.5,686,698.5,275,290,305,320],3);
})();
</script>
</body></html>
